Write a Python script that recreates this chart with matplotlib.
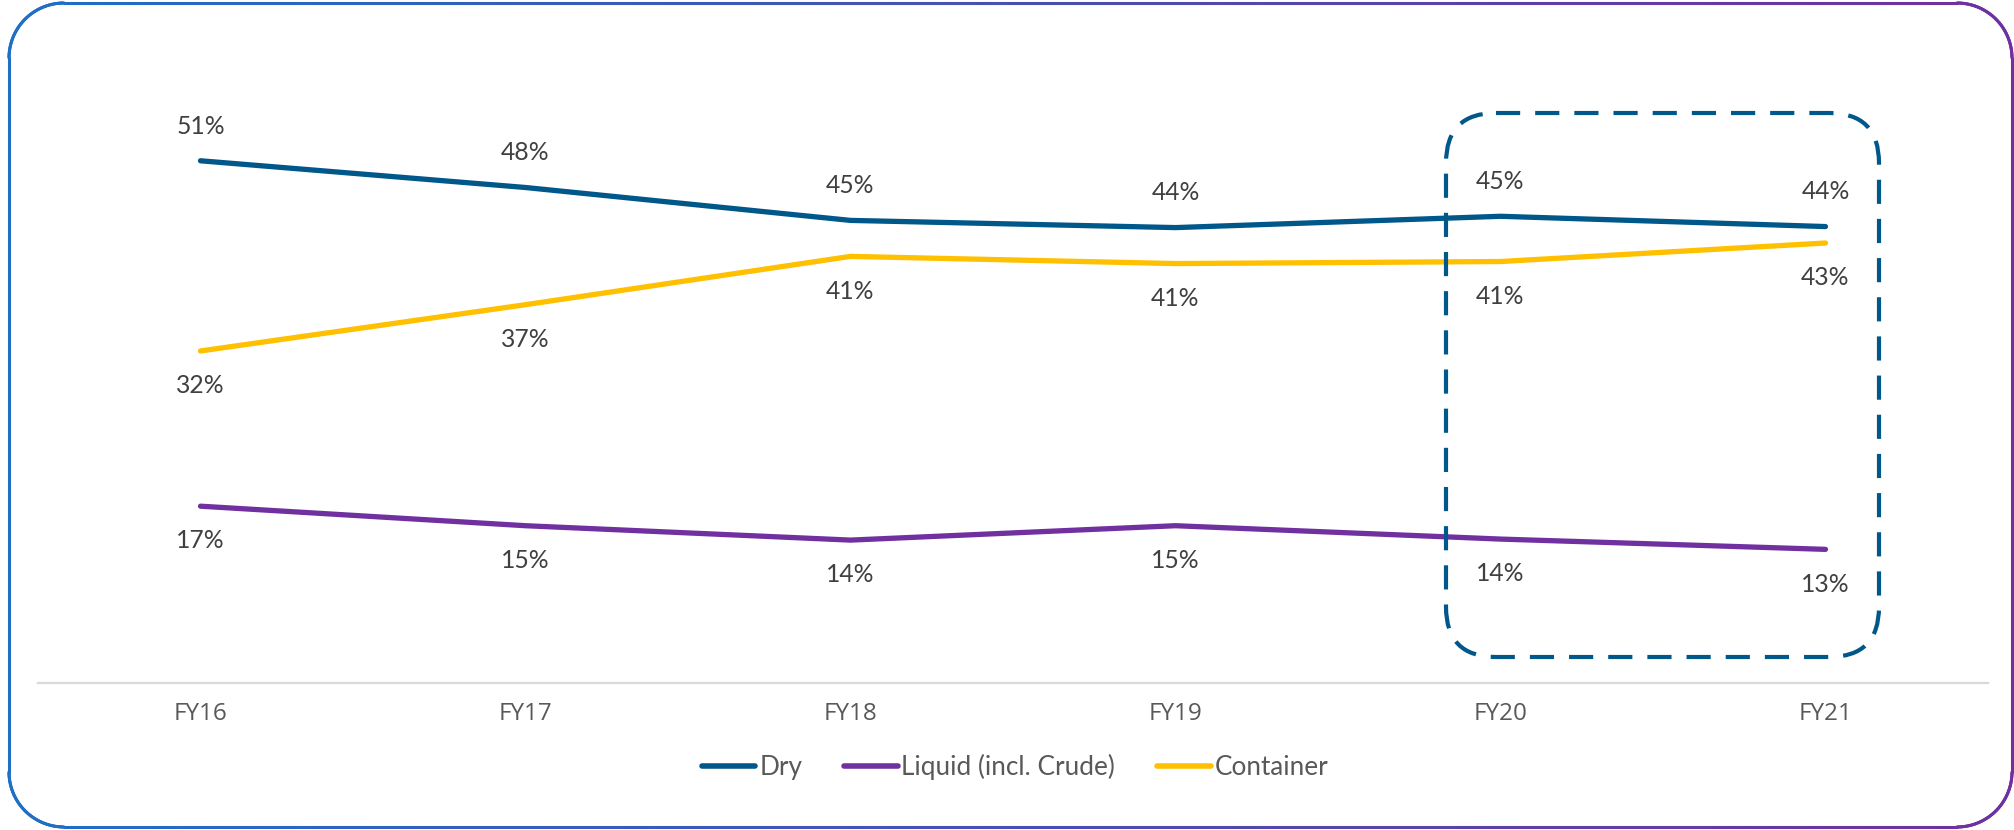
import numpy as np
import matplotlib
matplotlib.use("Agg")
import matplotlib.pyplot as plt
from matplotlib.collections import LineCollection
from matplotlib.patches import FancyBboxPatch
from matplotlib.colors import to_rgb

# ---- data ----
categories = ["FY16", "FY17", "FY18", "FY19", "FY20", "FY21"]
dry = [50.8, 48.2, 45.0, 44.3, 45.4, 44.4]
liquid = [17.2, 15.3, 13.9, 15.3, 14.0, 13.0]
container = [32.3, 36.8, 41.5, 40.8, 41.0, 42.8]
dry_labels = ["51%", "48%", "45%", "44%", "45%", "44%"]
liquid_labels = ["17%", "15%", "14%", "15%", "14%", "13%"]
container_labels = ["32%", "37%", "41%", "41%", "41%", "43%"]
series_names = ["Dry", "Liquid (incl. Crude)", "Container"]

C_DRY = "#00578A"
C_LIQ = "#7030A0"
C_CON = "#FFC000"
TXT = "#404040"

W, H = 2015, 830
DPI = 100
fig = plt.figure(figsize=(W / DPI, H / DPI), dpi=DPI)
fig.patch.set_facecolor("white")

# main axes (pixel placement)
ax_left, ax_right = 38, 1988
ax_bottom_px, ax_top_px = 683, 60  # from top
ax = fig.add_axes([ax_left / W, (H - ax_bottom_px) / H,
                   (ax_right - ax_left) / W, (ax_bottom_px - ax_top_px) / H])
x = np.arange(len(categories))
ax.set_xlim(-0.5, len(categories) - 0.5)
ax.set_ylim(0, (ax_bottom_px - ax_top_px) / 10.28)

lw = 3.8
ax.plot(x, dry, color=C_DRY, lw=lw, solid_capstyle="round", solid_joinstyle="round", label=series_names[0])
ax.plot(x, liquid, color=C_LIQ, lw=lw, solid_capstyle="round", solid_joinstyle="round", label=series_names[1])
ax.plot(x, container, color=C_CON, lw=lw, solid_capstyle="round", solid_joinstyle="round", label=series_names[2])

lab_font = dict(family=["Lato", "DejaVu Sans"], fontsize=17.8, color=TXT)
for xi, v, t in zip(x, dry, dry_labels):
    ax.annotate(t, (xi, v), xytext=(0, 25), textcoords="offset points",
                ha="center", va="center", **lab_font)
for xi, v, t in zip(x, liquid, liquid_labels):
    ax.annotate(t, (xi, v), xytext=(0, -25), textcoords="offset points",
                ha="center", va="center", **lab_font)
for xi, v, t in zip(x, container, container_labels):
    ax.annotate(t, (xi, v), xytext=(0, -25), textcoords="offset points",
                ha="center", va="center", **lab_font)

ax.set_xticks(x)
ax.set_xticklabels(categories, fontsize=17.5, color="#595959", family=["Open Sans", "DejaVu Sans"])
ax.tick_params(axis="x", length=0, pad=14)
ax.set_yticks([])
for s in ["top", "left", "right"]:
    ax.spines[s].set_visible(False)
ax.spines["bottom"].set_color("#D9D9D9")
ax.spines["bottom"].set_linewidth(1.6)
ax.patch.set_alpha(0)

leg = fig.legend(loc="center", bbox_to_anchor=(1015 / W, (H - 767) / H), ncol=3,
                 frameon=False, handlelength=2.05, handletextpad=0.15, columnspacing=1.6,
                 prop=dict(family=["Lato", "DejaVu Sans"], size=18.8))
for t in leg.get_texts():
    t.set_color("#595959")
for h in leg.legend_handles:
    h.set_linewidth(4)
    h.set_solid_capstyle("round")

# overlay axes in pixel coordinates for decorations
ov = fig.add_axes([0, 0, 1, 1], zorder=5)
ov.set_xlim(0, W)
ov.set_ylim(H, 0)
ov.axis("off")
ov.patch.set_alpha(0)

# dashed rounded highlight box
box = FancyBboxPatch((1446, 113), 1879 - 1446, 657 - 113,
                     boxstyle="round,pad=0,rounding_size=50",
                     fill=False, edgecolor=C_DRY, linewidth=3.0,
                     linestyle=(0, (5.8, 3.6)))
ov.add_patch(box)

# gradient rounded border
def rounded_rect(x0, y0, x1, y1, r, n=40):
    pts = []
    corners = [(x1 - r, y0 + r, -90, 0), (x1 - r, y1 - r, 0, 90),
               (x0 + r, y1 - r, 90, 180), (x0 + r, y0 + r, 180, 270)]
    for cx, cy, a0, a1 in corners:
        a = np.radians(np.linspace(a0, a1, n))
        pts.extend(zip(cx + r * np.cos(a), cy + r * np.sin(a)))
    pts.append(pts[0])
    return np.array(pts)

pts = rounded_rect(9, 3, 2012, 827, 55)
dense = []
for p, q in zip(pts[:-1], pts[1:]):
    seg_n = max(2, int(np.hypot(*(q - p)) / 5))
    for t in np.linspace(0, 1, seg_n, endpoint=False):
        dense.append(p + (q - p) * t)
dense.append(pts[-1])
dense = np.array(dense)
segs = np.stack([dense[:-1], dense[1:]], axis=1)
c0 = np.array(to_rgb("#1F6FC5"))
c1 = np.array(to_rgb("#7030A0"))
tx = ((segs[:, 0, 0] + segs[:, 1, 0]) / 2 - 9) / (2012 - 9)
cols = c0[None, :] * (1 - tx[:, None]) + c1[None, :] * tx[:, None]
lc = LineCollection(segs, colors=cols, linewidths=2.2, capstyle="round")
ov.add_collection(lc)

fig.savefig("out.png", dpi=DPI, facecolor="white")
